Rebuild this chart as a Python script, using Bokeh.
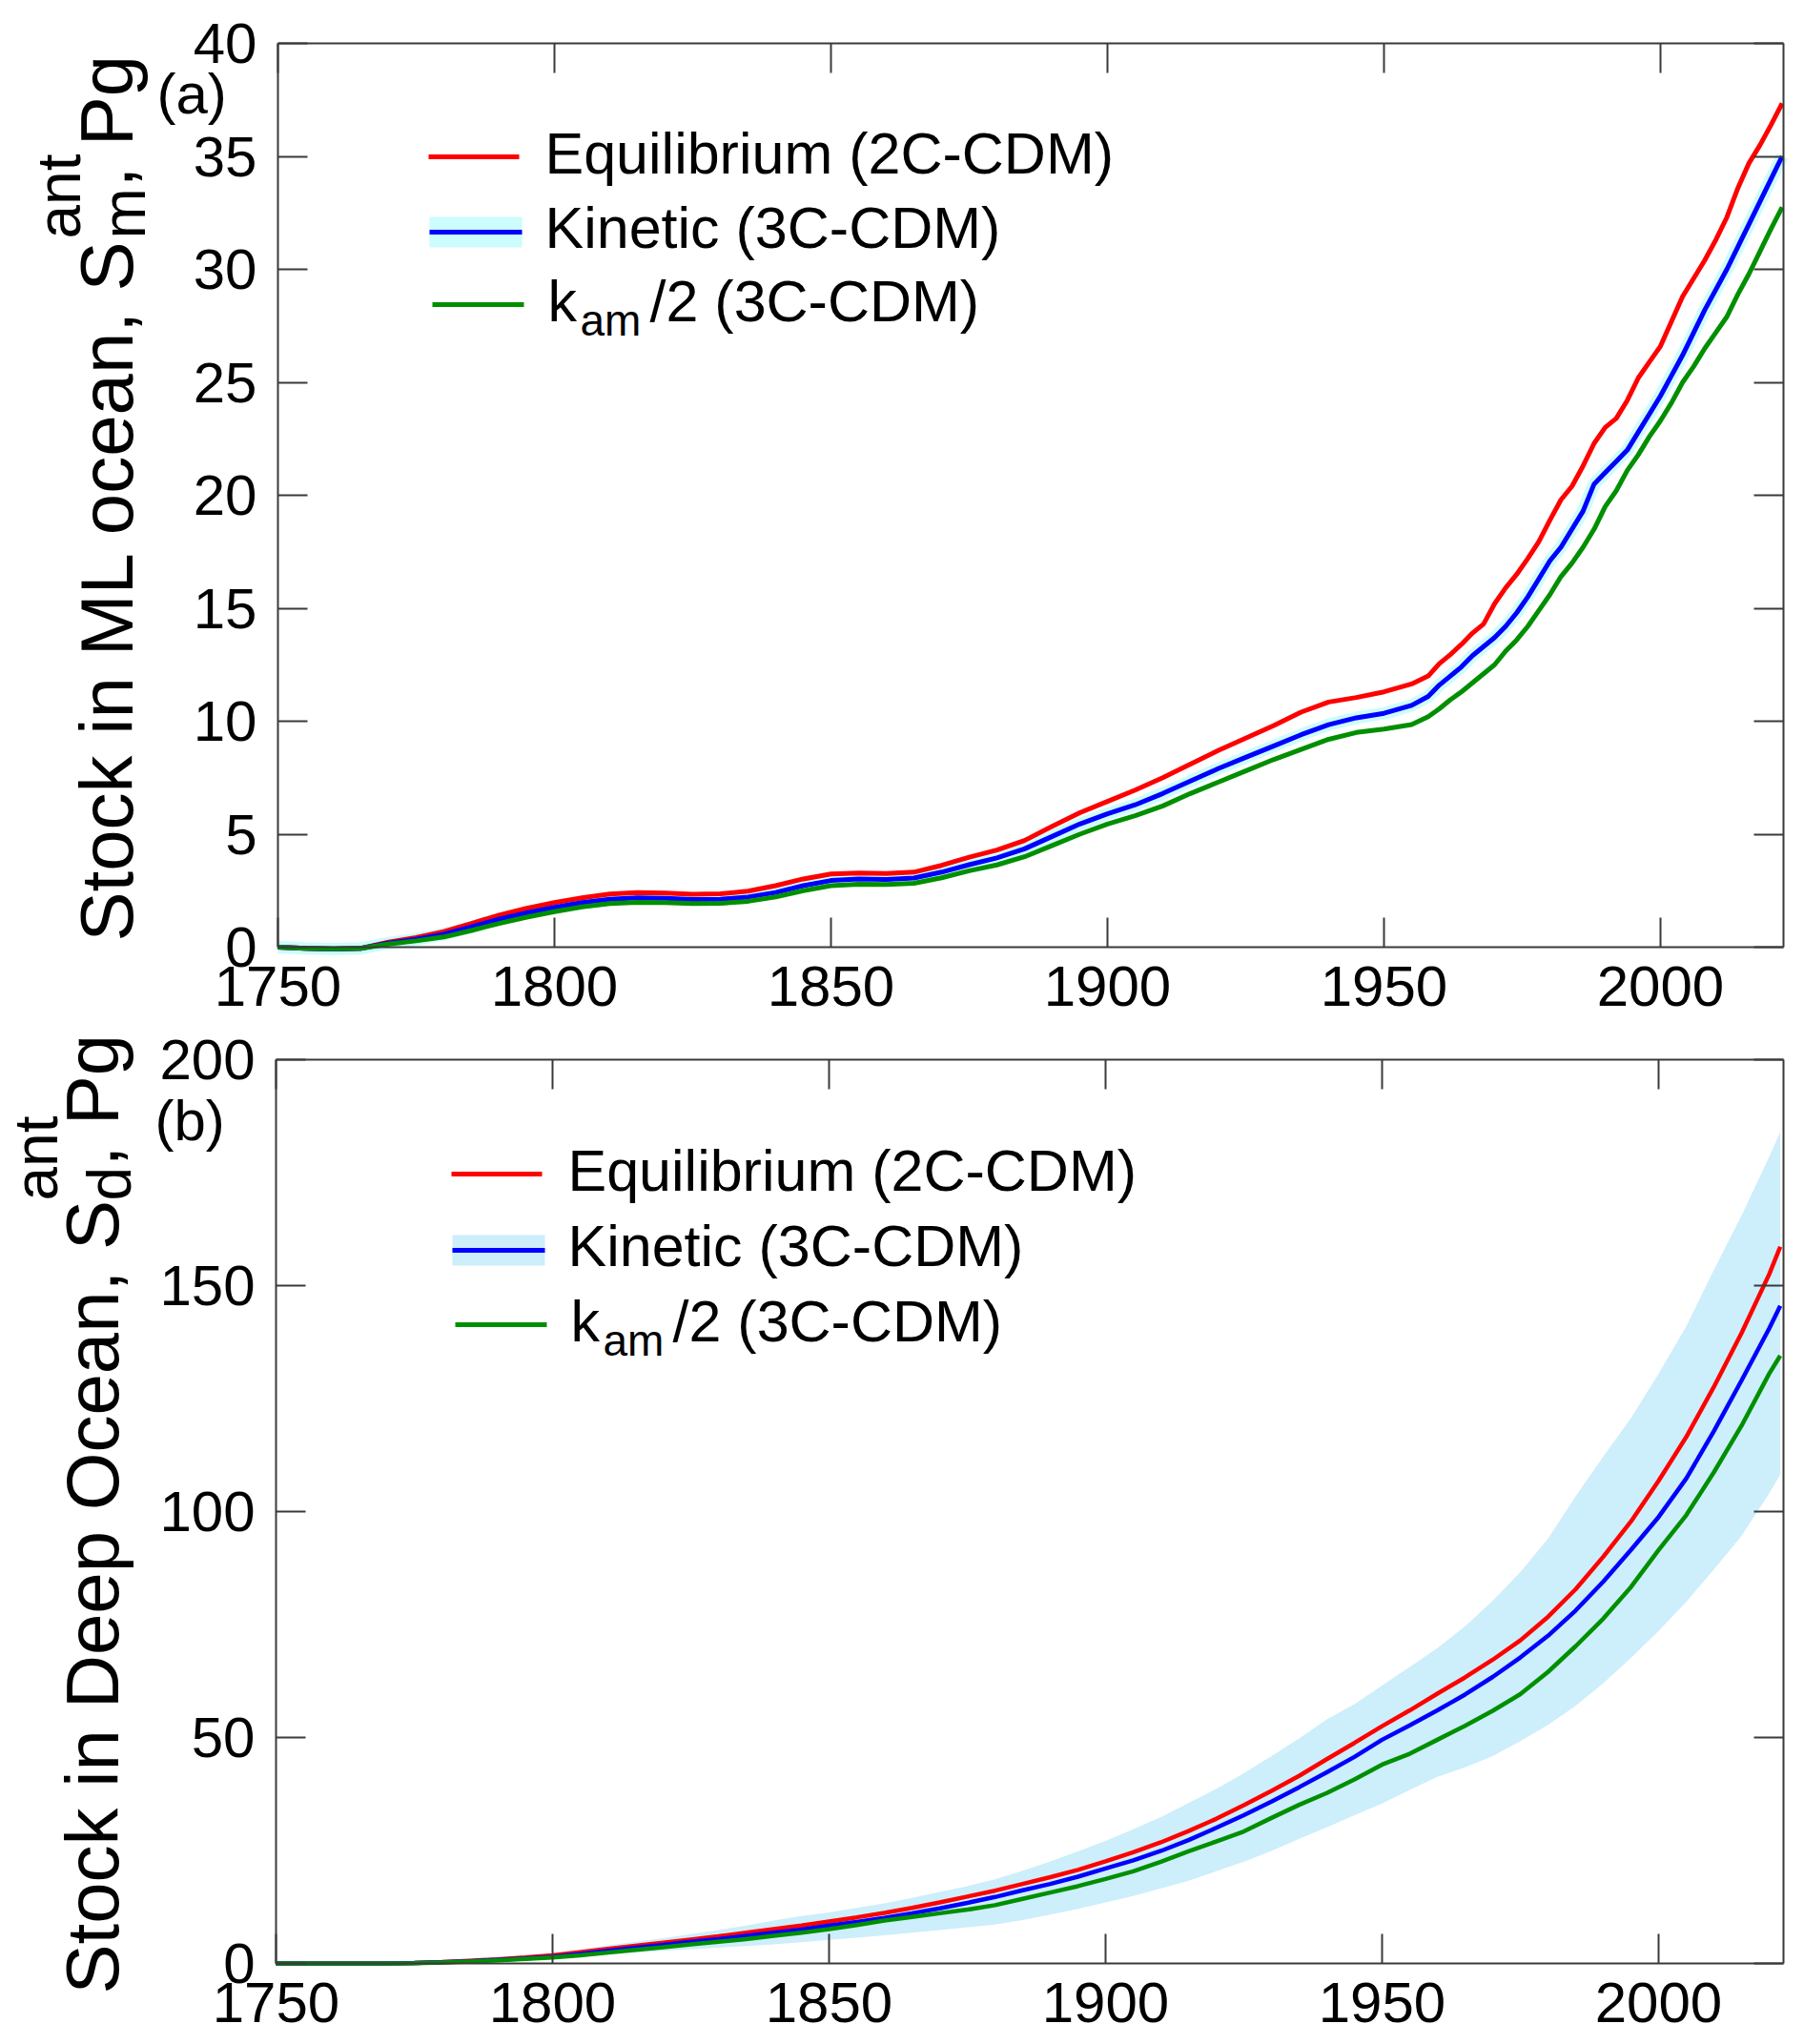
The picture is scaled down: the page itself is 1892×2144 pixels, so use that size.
import math
from bokeh.plotting import figure
from bokeh.models import Range1d, LinearAxis, FixedTicker, CustomJSTickFormatter, BoxAnnotation
from bokeh.layouts import column
from bokeh.embed import file_html
from bokeh.resources import INLINE
from bokeh.core.properties import value

# ---------------- data: panel (a) mixed-layer ocean stock, Pg ----------------
years_ml = [1750, 1755, 1760, 1765, 1770, 1775, 1780, 1785, 1790, 1795,
            1800, 1805, 1810, 1815, 1820, 1825, 1830, 1835, 1840, 1845,
            1850, 1855, 1860, 1865, 1870, 1875, 1880, 1885, 1890, 1895,
            1900, 1905, 1910, 1915, 1920, 1925, 1930, 1935, 1940, 1945,
            1950, 1955, 1958, 1960, 1962, 1964, 1966, 1968, 1970, 1972,
            1974, 1976, 1978, 1980, 1982, 1984, 1986, 1988, 1990, 1992,
            1994, 1996, 1998, 2000, 2002, 2004, 2006, 2008, 2010, 2012,
            2014, 2016, 2018, 2020, 2022]
ml_equilibrium = [0.0, -0.05, -0.08, -0.05, 0.22, 0.42, 0.69, 1.05, 1.42, 1.72,
                  1.97, 2.18, 2.35, 2.42, 2.39, 2.34, 2.36, 2.48, 2.72, 3.02,
                  3.24, 3.28, 3.26, 3.32, 3.62, 3.98, 4.30, 4.72, 5.35, 5.95,
                  6.45, 6.95, 7.5, 8.1, 8.7, 9.25, 9.8, 10.4, 10.85, 11.05,
                  11.3, 11.65, 12.0, 12.55, 12.95, 13.4, 13.9, 14.3, 15.2, 15.9,
                  16.5, 17.2, 17.95, 18.9, 19.8, 20.4, 21.3, 22.3, 23.0, 23.4,
                  24.2, 25.2, 25.9, 26.6, 27.7, 28.8, 29.6, 30.4, 31.3, 32.3,
                  33.6, 34.7, 35.5, 36.4, 37.35]
ml_kinetic = [0.0, -0.05, -0.08, -0.05, 0.18, 0.35, 0.57, 0.9, 1.24, 1.52,
              1.76, 1.97, 2.12, 2.18, 2.16, 2.11, 2.12, 2.22, 2.42, 2.72,
              2.95, 3.02, 3.0, 3.06, 3.32, 3.65, 3.95, 4.35, 4.9, 5.45,
              5.9, 6.3, 6.8, 7.35, 7.9, 8.4, 8.9, 9.4, 9.85, 10.15,
              10.35, 10.7, 11.1, 11.6, 12.0, 12.4, 12.9, 13.3, 13.7, 14.2,
              14.8, 15.5, 16.3, 17.1, 17.7, 18.5, 19.3, 20.5, 21.0, 21.5,
              22.0, 22.8, 23.6, 24.4, 25.3, 26.2, 27.2, 28.2, 29.1, 30.0,
              31.0, 32.0, 33.0, 34.0, 35.0]
ml_kam_half = [0.0, -0.05, -0.07, -0.05, 0.14, 0.28, 0.45, 0.74, 1.05, 1.33,
               1.57, 1.78, 1.93, 1.98, 1.97, 1.93, 1.94, 2.03, 2.22, 2.5,
               2.72, 2.78, 2.77, 2.83, 3.07, 3.38, 3.64, 4.0, 4.5, 5.0,
               5.45, 5.82, 6.25, 6.8, 7.3, 7.8, 8.3, 8.75, 9.2, 9.5,
               9.65, 9.85, 10.2, 10.55, 10.95, 11.3, 11.7, 12.1, 12.5, 13.1,
               13.6, 14.2, 14.9, 15.6, 16.4, 17.0, 17.7, 18.5, 19.5, 20.2,
               21.1, 21.8, 22.6, 23.3, 24.1, 25.0, 25.7, 26.5, 27.2, 27.9,
               28.9, 29.8, 30.8, 31.8, 32.75]

# ---------------- data: panel (b) deep ocean stock, Pg ----------------
years_deep = [1750, 1760, 1770, 1775, 1780, 1785, 1790, 1795, 1800, 1805,
              1810, 1815, 1820, 1825, 1830, 1835, 1840, 1845, 1850, 1855,
              1860, 1865, 1870, 1875, 1880, 1885, 1890, 1895, 1900, 1905,
              1910, 1915, 1920, 1925, 1930, 1935, 1940, 1945, 1950, 1955,
              1960, 1965, 1970, 1975, 1980, 1985, 1990, 1995, 2000, 2005,
              2010, 2015, 2020, 2022]
deep_equilibrium = [0, 0, 0, 0.1, 0.3, 0.6, 0.9, 1.3, 1.8, 2.5,
                    3.2, 3.9, 4.6, 5.3, 6.0, 6.8, 7.6, 8.4, 9.3, 10.2,
                    11.2, 12.3, 13.5, 14.8, 16.1, 17.6, 19.1, 20.7, 22.6, 24.6,
                    26.8, 29.3, 32.0, 35.0, 38.2, 41.5, 45.2, 48.8, 52.5, 56.0,
                    59.7, 63.3, 67.2, 71.5, 76.7, 82.8, 90.0, 97.8, 106.8, 116.5,
                    127.6, 139.5, 152.5, 158.6]
deep_kinetic = [0, 0, 0, 0.08, 0.25, 0.5, 0.8, 1.1, 1.5, 2.1,
                2.8, 3.5, 4.1, 4.8, 5.4, 6.1, 6.8, 7.5, 8.4, 9.2,
                10.1, 11.1, 12.2, 13.4, 14.7, 16.2, 17.6, 19.2, 21.0, 22.8,
                24.9, 27.3, 30.0, 32.8, 35.8, 39.0, 42.3, 45.7, 49.5, 52.7,
                56.0, 59.5, 63.4, 67.7, 72.5, 78.1, 84.5, 91.5, 98.8, 107.3,
                117.8, 129.0, 140.5, 145.5]
deep_kam_half = [0, 0, 0, 0.05, 0.2, 0.4, 0.7, 1.0, 1.3, 1.8,
                 2.4, 3.0, 3.6, 4.2, 4.8, 5.4, 6.1, 6.8, 7.6, 8.5,
                 9.5, 10.3, 11.1, 11.9, 12.9, 14.3, 15.7, 17.1, 18.7, 20.4,
                 22.5, 24.8, 27.0, 29.2, 32.2, 35.1, 37.7, 40.7, 44.0, 46.4,
                 49.5, 52.6, 55.9, 59.6, 64.5, 70.2, 76.3, 83.3, 91.5, 99.2,
                 108.7, 119.0, 130.5, 134.5]
deep_kinetic_high = [0, 0, 0, 0.1, 0.35, 0.7, 1.1, 1.6, 2.2, 3.1,
                     4.0, 4.8, 5.6, 6.5, 7.4, 8.4, 9.5, 10.5, 11.3, 12.3,
                     13.3, 14.5, 15.8, 17.1, 18.6, 20.5, 22.6, 24.8, 27.1, 29.7,
                     32.4, 35.5, 38.6, 42.1, 45.9, 49.8, 54.0, 57.4, 61.5, 65.6,
                     69.8, 74.6, 80.3, 86.6, 94.0, 103.4, 112.2, 120.7, 130.5, 141.0,
                     153.5, 165.5, 178.5, 184.0]
deep_kinetic_low = [0, 0, 0, 0.03, 0.15, 0.3, 0.5, 0.75, 1.0, 1.45,
                    1.9, 2.35, 2.8, 3.15, 3.5, 3.85, 4.2, 4.7, 5.2, 5.7,
                    6.2, 6.8, 7.4, 8.0, 8.6, 9.6, 10.8, 12.1, 13.5, 14.9,
                    16.6, 18.3, 20.4, 22.5, 24.9, 27.6, 30.1, 32.8, 35.4, 38.4,
                    41.3, 43.4, 45.9, 49.2, 52.8, 57.0, 62.0, 67.6, 73.6, 80.0,
                    87.2, 94.6, 104.0, 108.2]

x_ticks = [1750, 1800, 1850, 1900, 1950, 2000]
y_ticks_ml = [0, 5, 10, 15, 20, 25, 30, 35, 40]
y_ticks_deep = [0, 50, 100, 150, 200]
series_labels = ["Equilibrium (2C-CDM)", "Kinetic (3C-CDM)", "(3C-CDM)"]

# ---------------- styling / layout (page pixels) ----------------
FONT = "Liberation Sans"
AXC = "#3a3a3a"
RED, BLUE, GREEN = "#ff0000", "#0000ff", "#008f00"
CYAN_A = "#ccfcfc"
BAND_B = "#cdeefb"
PX_PER_YEAR = 5.8
W = 1884
BASE_SHIFT = 0.355   # em offset between requested baseline and drawn anchor

PANEL_A = dict(left=291, right=1870, top=45, bottom=993, yend=40, c_top=0, c_h=1068)
PANEL_B = dict(left=289, right=1870, top=1111, bottom=2059, yend=200, c_top=1068, c_h=1072)


def conv(P):
    def fx(px):
        return 1750 + (px - P["left"]) / PX_PER_YEAR

    def fy(py):
        return P["yend"] * (P["bottom"] - py) / (P["bottom"] - P["top"])
    return fx, fy


def make_fig(P, yticks):
    fx, fy = conv(P)
    p = figure(output_backend="svg", toolbar_location=None,
               x_range=Range1d(fx(0), fx(W)),
               y_range=Range1d(fy(P["c_top"] + P["c_h"]), fy(P["c_top"])),
               frame_width=W, frame_height=P["c_h"], min_border=0,
               min_border_left=0, min_border_right=0, min_border_top=0, min_border_bottom=0,
               x_axis_location=None, y_axis_location=None)
    p.grid.visible = False
    p.outline_line_color = None
    p.background_fill_color = "white"
    p.border_fill_color = "white"
    x_plot_end = fx(P["right"])
    bottom = LinearAxis(fixed_location=0, bounds=(1750, x_plot_end))
    top = LinearAxis(fixed_location=P["yend"], bounds=(1750, x_plot_end))
    left = LinearAxis(fixed_location=1750, bounds=(0, P["yend"]))
    right = LinearAxis(fixed_location=x_plot_end, bounds=(0, P["yend"]))
    p.add_layout(bottom, "below")
    p.add_layout(top, "above")
    p.add_layout(left, "left")
    p.add_layout(right, "right")
    for ax, ticks, show in ((bottom, x_ticks, True), (left, yticks, True),
                            (top, x_ticks, False), (right, yticks, False)):
        ax.ticker = FixedTicker(ticks=ticks)
        ax.major_tick_in = 31
        ax.major_tick_out = 0
        ax.minor_tick_in = 0
        ax.minor_tick_out = 0
        ax.axis_line_color = AXC
        ax.axis_line_width = 2
        ax.major_tick_line_color = AXC
        ax.major_tick_line_width = 2
        ax.major_label_text_font = FONT
        ax.major_label_text_color = "black"
        if show:
            ax.major_label_text_font_size = "60px"
        else:
            ax.formatter = CustomJSTickFormatter(code="return ''")
            ax.major_label_text_font_size = "1px"
            ax.major_label_standoff = 0
    bottom.major_label_standoff = 20
    left.major_label_standoff = 22
    return p


def add_text(p, P, px, py, text, size, rotated=False):
    """(px, py): page position of the start of the text's baseline."""
    fx, fy = conv(P)
    off = BASE_SHIFT * size
    if rotated:
        ax, ay, angle = px - off, py, math.pi / 2
    else:
        ax, ay, angle = px, py - off, 0.0
    p.text(x=[fx(ax)], y=[fy(ay)], text=[text], angle=angle,
           text_font=value(FONT), text_font_size=value(f"{size}px"),
           text_color="black", text_align="left", text_baseline="alphabetic")


def add_bar(p, P, x0, x1, yc, half, color):
    fx, fy = conv(P)
    p.add_layout(BoxAnnotation(left=fx(x0), right=fx(x1), top=fy(yc - half), bottom=fy(yc + half),
                               fill_color=color, fill_alpha=1.0, line_color=None, line_alpha=0))


def add_legend(p, P, dx, rows, base_y, band_color):
    r1, r2, r3 = rows
    add_bar(p, P, 449 + dx, 544 + dx, r1, 2.5, RED)
    add_bar(p, P, 450 + dx, 547 + dx, r2, 16, band_color)
    add_bar(p, P, 450 + dx, 547 + dx, r2, 2.5, BLUE)
    add_bar(p, P, 453 + dx, 549 + dx, r3, 2.5, GREEN)
    tx = 571 + dx
    add_text(p, P, tx, base_y[0], series_labels[0], 61)
    add_text(p, P, tx, base_y[1], series_labels[1], 61)
    add_text(p, P, tx + 3, base_y[2], "k", 61)
    add_text(p, P, tx + 37, base_y[2] + 15, "am", 46)
    add_text(p, P, tx + 110, base_y[2], "/2 " + series_labels[2], 61)


# ---------------- panel (a) ----------------
pa = make_fig(PANEL_A, y_ticks_ml)
pa.line(years_ml, ml_kinetic, line_color=CYAN_A, line_width=13)
pa.line(years_ml, ml_equilibrium, line_color=RED, line_width=5)
pa.line(years_ml, ml_kinetic, line_color=BLUE, line_width=5)
pa.line(years_ml, ml_kam_half, line_color=GREEN, line_width=5)
add_text(pa, PANEL_A, 139, 987, "Stock in ML ocean, S", 78, True)
add_text(pa, PANEL_A, 84, 250, "ant", 64, True)
add_text(pa, PANEL_A, 152, 250, "m", 64, True)
add_text(pa, PANEL_A, 139, 196, ", Pg", 78, True)
add_text(pa, PANEL_A, 164, 119, "(a)", 60)
add_legend(pa, PANEL_A, 0, (164, 243, 319), (182, 260, 337), CYAN_A)

# ---------------- panel (b) ----------------
pb = make_fig(PANEL_B, y_ticks_deep)
pb.varea(x=years_deep, y1=deep_kinetic_low, y2=deep_kinetic_high, fill_color=BAND_B, fill_alpha=1.0)
pb.line(years_deep, deep_equilibrium, line_color=RED, line_width=4.5)
pb.line(years_deep, deep_kinetic, line_color=BLUE, line_width=4.5)
pb.line(years_deep, deep_kam_half, line_color=GREEN, line_width=4.5)
add_text(pb, PANEL_B, 124, 2091, "Stock in Deep Ocean, S", 78, True)
add_text(pb, PANEL_B, 60, 1259, "ant", 64, True)
add_text(pb, PANEL_B, 137, 1259, "d", 64, True)
add_text(pb, PANEL_B, 124, 1223, ", Pg", 78, True)
add_text(pb, PANEL_B, 162, 1196, "(b)", 60)
add_legend(pb, PANEL_B, 24, (1231, 1311, 1389), (1249, 1328, 1407), BAND_B)

layout = column(pa, pb, spacing=0)
open("out.html", "w").write(file_html(layout, INLINE, title="Ocean carbon stocks"))
